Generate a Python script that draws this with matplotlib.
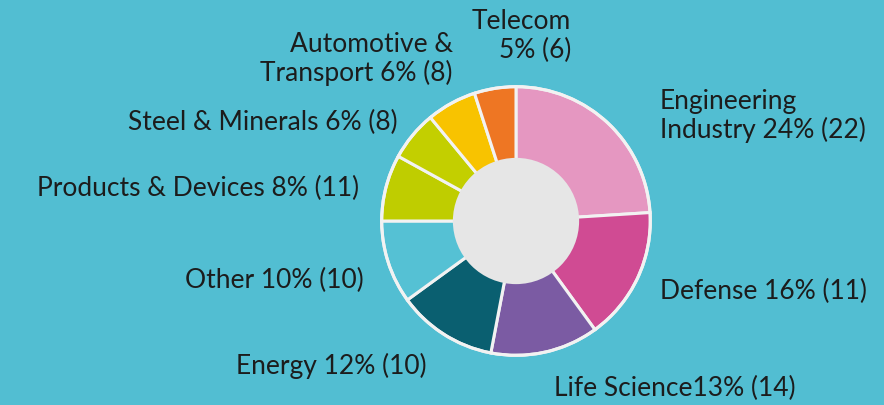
import matplotlib.pyplot as plt
from matplotlib.patches import Circle

# sector data (clockwise from 12 o'clock)
sectors = ['Engineering\nIndustry 24% (22)', 'Defense 16% (11)', 'Life Science13% (14)',
           'Energy 12% (10)', 'Other 10% (10)', 'Products & Devices 8% (11)',
           'Steel & Minerals 6% (8)', 'Automotive &\nTransport 6% (8)', 'Telecom\n5% (6)']
shares = [24, 16, 13, 12, 10, 8, 6, 6, 5]
colors = ['#E597C1', '#D04B93', '#7B5BA3', '#0A5F70', '#55C1D4',
          '#BFCD00', '#C3CF00', '#F8C300', '#EE7623']

# label anchors in pixels (x, y from top), alignment
label_pos = [(660, 116, 'left'), (660, 291, 'left'), (554, 388, 'left'),
             (427, 366, 'right'), (364, 280, 'right'), (359, 188, 'right'),
             (398, 122, 'right'), (453, 59, 'right'), (571, 36, 'right')]

bg = '#52BED2'
W, H = 884, 405
fig = plt.figure(figsize=(W / 100, H / 100), dpi=100, facecolor=bg)

cx, cy, r = 516, 221, 137
ax = fig.add_axes([(cx - r) / W, (H - cy - r) / H, 2 * r / W, 2 * r / H])
ax.set_facecolor(bg)
ax.pie(shares, colors=colors, startangle=90, counterclock=False, radius=1,
       wedgeprops=dict(edgecolor='#F2F2F2', linewidth=2.2))
ax.add_patch(Circle((0, 0), 0.47, facecolor='#E6E6E6', edgecolor='none', zorder=5))
ax.add_patch(Circle((0, 0), 1.0, facecolor='none', edgecolor='#F2F2F2', lw=2.2, zorder=6))
ax.set_xlim(-1.02, 1.02)
ax.set_ylim(-1.02, 1.02)
ax.set_aspect('equal')
ax.axis('off')

for lab, (x, y, ha) in zip(sectors, label_pos):
    fig.text(x / W, 1 - y / H, lab, ha=ha, va='center', fontsize=19,
             family='Lato', color='#1C1C1C', linespacing=1.17)

fig.savefig('out.png', dpi=100, facecolor=bg)
